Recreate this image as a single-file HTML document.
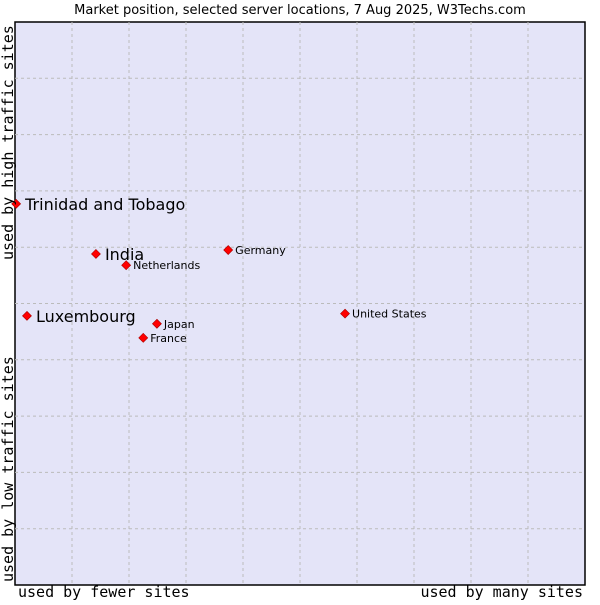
<!DOCTYPE html>
<html><head><meta charset="utf-8"><style>
body{margin:0;background:#fff;}
svg text{font-family:"DejaVu Sans","Liberation Sans",sans-serif;}
.mono{font-family:"DejaVu Sans Mono","Liberation Mono",monospace;}
</style></head><body>
<svg width="600" height="600">
<text x="300" y="14" font-size="13" text-anchor="middle">Market position, selected server locations, 7 Aug 2025, W3Techs.com</text>
<rect x="15" y="22" width="570" height="563" fill="#e4e4f8" stroke="#000" stroke-width="1.5"/>
<g id="grid"></g>
<g id="pts"></g>
<text class="mono" x="18" y="597" font-size="15">used by fewer sites</text>
<text class="mono" x="583" y="597" font-size="15" text-anchor="end">used by many sites</text>
<text class="mono" transform="translate(13,260) rotate(-90)" font-size="15">used by high traffic sites</text>
<text class="mono" transform="translate(13,582) rotate(-90)" font-size="15">used by low traffic sites</text>
</svg>
<script>
const names=["Trinidad and Tobago","India","Netherlands","Germany","Luxembourg","Japan","France","United States"];
const xs=[0.2,14.2,19.5,37.4,2.1,24.9,22.5,57.9];
const ys=[67.7,58.8,56.8,59.5,47.8,46.4,43.9,48.2];
const big=[true,true,false,false,true,false,false,false];
const L=15,T=22,W=570,H=563;
const sx=v=>L+v/100*W, sy=v=>T+H-v/100*H;
const NS="http://www.w3.org/2000/svg";
const g=document.getElementById('grid');
for(let i=1;i<10;i++){
 const v=document.createElementNS(NS,'line');
 
 
 v.setAttribute('x1',sx(i*10));v.setAttribute('x2',sx(i*10));v.setAttribute('y1',T);v.setAttribute('y2',T+H);
 v.setAttribute('stroke','#bbbbbb');v.setAttribute('stroke-dasharray','3,3');g.appendChild(v);
 const h=document.createElementNS(NS,'line');
 
 
 h.setAttribute('y1',sy(i*10));h.setAttribute('y2',sy(i*10));h.setAttribute('x1',L);h.setAttribute('x2',L+W);
 h.setAttribute('stroke','#bbbbbb');h.setAttribute('stroke-dasharray','3,3');g.appendChild(h);
}
const p=document.getElementById('pts');
names.forEach((n,i)=>{
 const x=sx(xs[i]),y=sy(ys[i]);
 const d=document.createElementNS(NS,'path');
 
 
 d.setAttribute('d',`M${x} ${y-4.5}L${x+4.5} ${y}L${x} ${y+4.5}L${x-4.5} ${y}Z`);
 d.setAttribute('fill','#f00');d.setAttribute('stroke','#a00');d.setAttribute('stroke-width','0.6');p.appendChild(d);
 const t=document.createElementNS(NS,'text');
 
 
 t.setAttribute('x',x+(big[i]?9:7));t.setAttribute('y',y+(big[i]?6:4));
 t.setAttribute('font-size',big[i]?16:11);t.textContent=n;p.appendChild(t);
});
</script>
</body></html>
